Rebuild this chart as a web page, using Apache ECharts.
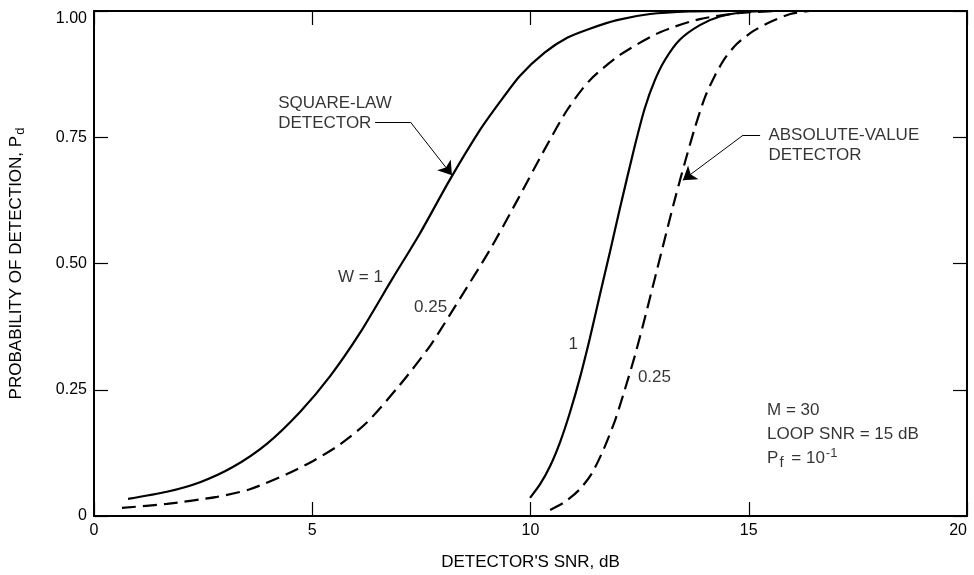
<!DOCTYPE html>
<html>
<head>
    <meta charset="utf-8" />
    <title>Probability of detection vs detector SNR</title>
    <script src="https://cdn.jsdelivr.net/npm/echarts@6/dist/echarts.min.js"></script>
    <style>
        html, body { margin: 0; padding: 0; background: #fff; }
        #main { width: 974px; height: 575px; }
    </style>
</head>
<body>
    <div id="main"></div>
    <script>
        // curve points: [detector SNR dB, Pd]
        var squareLawW1 = [[0.78, 0.034], [1.67, 0.048], [2.43, 0.067], [3.18, 0.097], [3.96, 0.143], [4.72, 0.206],
            [5.41, 0.277], [6.09, 0.362], [6.83, 0.469], [7.47, 0.560], [8.16, 0.667], [8.84, 0.764], [9.30, 0.820],
            [9.76, 0.872], [10.33, 0.918], [10.84, 0.947], [11.36, 0.965], [11.98, 0.982], [12.74, 0.994],
            [13.65, 0.999], [14.57, 1.0]];
        var squareLawW025 = [[0.64, 0.016], [1.67, 0.024], [2.82, 0.038], [3.57, 0.053], [4.42, 0.083], [5.02, 0.109],
            [5.64, 0.142], [6.25, 0.185], [7.01, 0.260], [7.70, 0.337], [8.38, 0.430], [9.07, 0.527], [9.69, 0.624],
            [10.33, 0.727], [10.84, 0.804], [11.36, 0.863], [12.05, 0.913], [12.97, 0.958], [13.88, 0.984],
            [14.80, 0.996], [15.6, 1.0]];
        var absValueW1 = [[9.99, 0.036], [10.22, 0.063], [10.45, 0.099], [10.68, 0.147], [10.9, 0.204], [11.13, 0.273],
            [11.36, 0.352], [11.59, 0.438], [11.82, 0.523], [12.05, 0.610], [12.39, 0.733], [12.62, 0.808],
            [12.85, 0.863], [13.08, 0.903], [13.42, 0.943], [13.88, 0.972], [14.34, 0.989], [14.91, 0.998], [15.49, 1.0]];
        var absValueW025 = [[10.45, 0.012], [10.79, 0.028], [11.13, 0.053], [11.41, 0.085], [11.68, 0.133], [11.94, 0.190],
            [12.16, 0.250], [12.39, 0.317], [12.62, 0.392], [12.85, 0.471], [13.08, 0.550], [13.31, 0.628],
            [13.54, 0.701], [13.77, 0.770], [14.0, 0.830], [14.23, 0.873], [14.46, 0.907], [14.73, 0.935],
            [15.10, 0.960], [15.49, 0.978], [15.95, 0.994], [16.4, 1.0]];

        // text notes placed in data coordinates
        var notes = [
            { at: [4.22, 0.798], text: 'SQUARE-LAW\nDETECTOR', side: 'right' },
            { at: [15.45, 0.735], text: 'ABSOLUTE-VALUE\nDETECTOR', side: 'right' },
            { at: [6.62, 0.473], text: 'W = 1', side: 'left' },
            { at: [8.09, 0.414], text: '0.25', side: 'left' },
            { at: [11.09, 0.339], text: '1', side: 'left' },
            { at: [12.46, 0.275], text: '0.25', side: 'right' }
        ];
        // leader lines and arrows: [from, to]
        var leaders = [[[6.44, 0.78], [7.25, 0.78]], [[15.26, 0.754], [14.87, 0.754]]];
        var arrows = [[[7.25, 0.78], [8.2, 0.675]], [[14.87, 0.754], [13.49, 0.665]]];

        var font = 'Liberation Sans, Arial, Helvetica, sans-serif';
        var myChart = echarts.init(document.getElementById('main'));

        function curve(name, data, dashed) {
            return {
                name: name,
                type: 'line',
                data: data,
                smooth: 0.25,
                showSymbol: false,
                symbol: 'none',
                lineStyle: { color: '#000', width: 2.2, type: dashed ? [14, 7] : 'solid' }
            };
        }

        function frameAxis(extra) {
            var ax = {
                type: 'value',
                axisLine: { show: true, onZero: false, lineStyle: { color: '#000', width: 2 } },
                axisTick: { show: true, inside: true, length: 14, lineStyle: { color: '#000', width: 1.2 } },
                splitLine: { show: false }
            };
            for (var k in extra) ax[k] = extra[k];
            return ax;
        }

        var option = {
            animation: false,
            textStyle: { fontFamily: font, color: '#000' },
            grid: { left: 94, top: 11, right: 7, bottom: 59, outerBoundsMode: 'none', containLabel: false },
            xAxis: [
                frameAxis({
                    min: 0, max: 20, interval: 5,
                    name: "DETECTOR'S SNR, dB", nameLocation: 'middle', nameGap: 38,
                    nameTextStyle: { fontSize: 17, color: '#000', fontFamily: font },
                    axisLabel: { fontSize: 16, color: '#000', margin: 7, fontFamily: font, alignMaxLabel: 'right' }
                }),
                frameAxis({ min: 0, max: 20, interval: 5, position: 'top', axisLabel: { show: false } })
            ],
            yAxis: [
                frameAxis({
                    min: 0, max: 1, interval: 0.25,
                    name: '{a|PROBABILITY OF DETECTION, P}{s|d}', nameLocation: 'middle', nameGap: 67,
                    nameTextStyle: {
                        fontSize: 17, color: '#000', fontFamily: font,
                        rich: {
                            a: { fontSize: 17, fontFamily: font, color: '#000' },
                            s: { fontSize: 13, fontFamily: font, color: '#000', padding: [9, 0, 0, 1] }
                        }
                    },
                    axisLabel: {
                        fontSize: 16, color: '#000', margin: 7, fontFamily: font,
                        verticalAlignMaxLabel: 'top',
                        formatter: function (v) { return v === 0 ? '0' : v.toFixed(2); }
                    }
                }),
                frameAxis({ min: 0, max: 1, interval: 0.25, position: 'right', axisLabel: { show: false } })
            ],
            series: [
                curve('square-law W=1', squareLawW1, false),
                curve('square-law W=0.25', squareLawW025, true),
                curve('absolute-value W=1', absValueW1, false),
                curve('absolute-value W=0.25', absValueW025, true),
                {
                    type: 'lines', coordinateSystem: 'cartesian2d', symbol: 'none',
                    lineStyle: { color: '#000', width: 1, opacity: 1 },
                    data: leaders.map(function (l) { return { coords: l }; })
                },
                {
                    type: 'lines', coordinateSystem: 'cartesian2d',
                    symbol: ['none', 'arrow'], symbolSize: [7, 13],
                    itemStyle: { color: '#000' },
                    lineStyle: { color: '#000', width: 1, opacity: 1 },
                    data: arrows.map(function (l) { return { coords: l }; })
                },
                {
                    type: 'scatter', symbolSize: 0, silent: true,
                    data: notes.map(function (n) {
                        return {
                            value: n.at,
                            label: {
                                show: true, position: n.side, distance: 0,
                                formatter: n.text, fontSize: 17, lineHeight: 20,
                                color: '#000', fontFamily: font
                            }
                        };
                    })
                },
                {
                    type: 'scatter', symbolSize: 0, silent: true,
                    data: [{
                        value: [15.42, 0.162],
                        label: {
                            show: true, position: 'right', distance: 0,
                            formatter: 'M = 30\nLOOP SNR = 15 dB\n{p|P}{f|f}{p| = 10}{e|-1}',
                            fontSize: 17, lineHeight: 24, color: '#000', fontFamily: font,
                            rich: {
                                p: { fontSize: 17, fontFamily: font, color: '#000', lineHeight: 24 },
                                f: { fontSize: 15, fontFamily: font, color: '#000', padding: [10, 3, 0, 1], lineHeight: 24 },
                                e: { fontSize: 13, fontFamily: font, color: '#000', padding: [0, 0, 10, 1], lineHeight: 24 }
                            }
                        }
                    }]
                }
            ]
        };

        myChart.setOption(option);
    </script>
</body>
</html>
